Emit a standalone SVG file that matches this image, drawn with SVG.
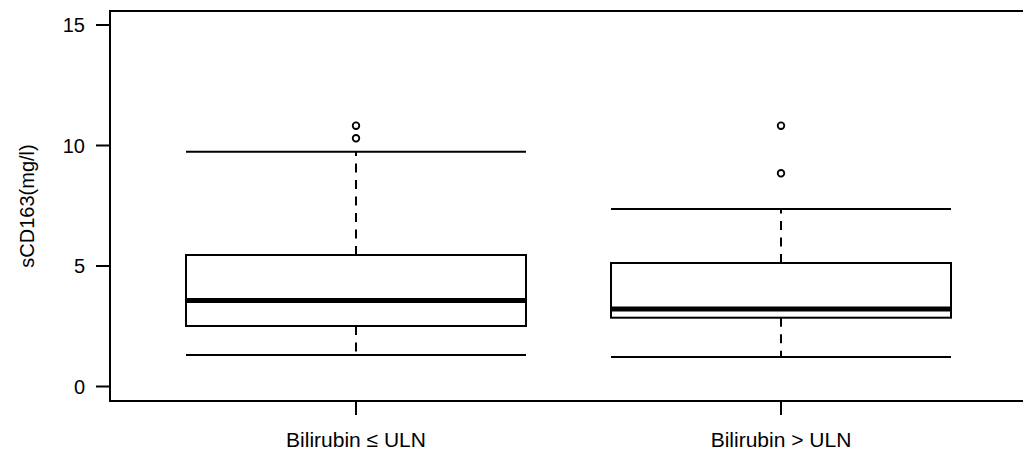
<svg xmlns="http://www.w3.org/2000/svg" width="1023" height="450" viewBox="0 0 1023 450">
  <style>
    .ln { stroke: #000; stroke-width: 2; fill: none; }
    .box { stroke: #000; stroke-width: 2; fill: #fff; }
    .med { stroke: #000; stroke-width: 5; }
    .wh { stroke: #000; stroke-width: 2; stroke-dasharray: 9 7.5; fill: none; }
    .out { stroke: #000; stroke-width: 1.8; fill: none; }
    text { font-family: "Liberation Sans", Arial, sans-serif; font-size: 20px; fill: #000; }
    .yt { text-anchor: end; dominant-baseline: central; }
    .xt { text-anchor: middle; }
    .xl { font-size: 21px; }
  </style>
  <rect width="1023" height="450" fill="#fff"/>
  <g id="axes">
    <rect class="ln" x="110" y="11" width="930" height="390"/>
    <line class="ln" x1="96" y1="25" x2="110" y2="25"/>
    <line class="ln" x1="96" y1="145.5" x2="110" y2="145.5"/>
    <line class="ln" x1="96" y1="266" x2="110" y2="266"/>
    <line class="ln" x1="96" y1="386.5" x2="110" y2="386.5"/>
    <text class="yt" x="85" y="25">15</text>
    <text class="yt" x="85" y="145.5">10</text>
    <text class="yt" x="85" y="266">5</text>
    <text class="yt" x="85" y="386.5">0</text>
    <line class="ln" x1="356" y1="401" x2="356" y2="415"/>
    <line class="ln" x1="781" y1="401" x2="781" y2="415"/>
    <text class="xt xl" x="356" y="447">Bilirubin ≤ ULN</text>
    <text class="xt xl" x="781" y="447">Bilirubin &gt; ULN</text>
    <text class="xt" transform="translate(34,206) rotate(-90)">sCD163(mg/l)</text>
  </g>
  <g id="connectors">
    <line class="wh" x1="356" y1="255" x2="356" y2="151.7"/>
    <line class="wh" x1="356" y1="326" x2="356" y2="355"/>
    <line class="wh" x1="781" y1="263" x2="781" y2="209"/>
    <line class="wh" x1="781" y1="317.7" x2="781" y2="357"/>
  </g>
  <g id="box-low">
    <line class="ln" x1="186" y1="151.7" x2="526" y2="151.7"/>
    <line class="ln" x1="186" y1="355" x2="526" y2="355"/>
    <rect class="box" x="186" y="255" width="340" height="71"/>
    <line class="med" x1="186" y1="300.5" x2="526" y2="300.5"/>
    <circle class="out" cx="356" cy="125.7" r="3.3"/>
    <circle class="out" cx="356" cy="138.3" r="3.3"/>
  </g>
  <g id="box-high">
    <line class="ln" x1="611" y1="209" x2="951" y2="209"/>
    <line class="ln" x1="611" y1="357" x2="951" y2="357"/>
    <rect class="box" x="611" y="263" width="340" height="54.7"/>
    <line class="med" x1="611" y1="309" x2="951" y2="309"/>
    <circle class="out" cx="781" cy="125.7" r="3.3"/>
    <circle class="out" cx="781" cy="173.3" r="3.3"/>
  </g>
</svg>
